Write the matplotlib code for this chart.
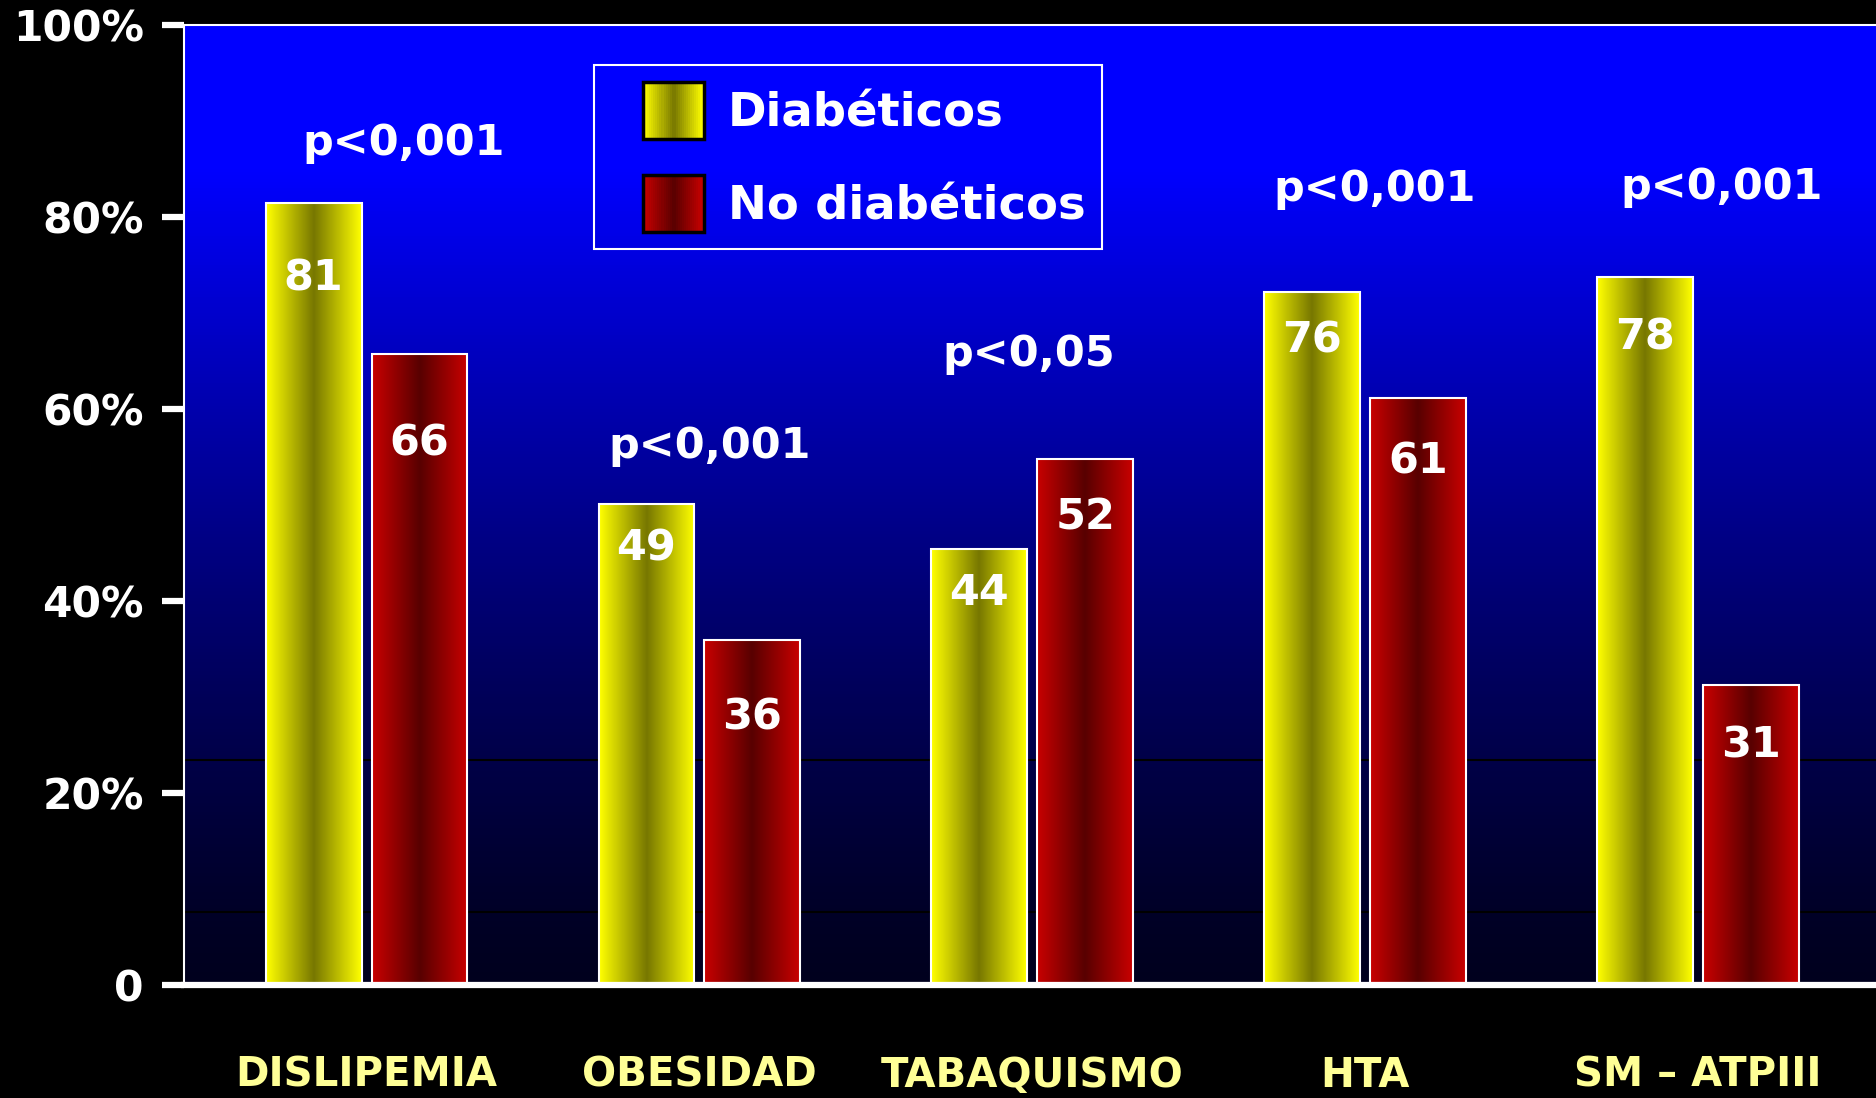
import matplotlib
matplotlib.use('Agg')
import matplotlib.pyplot as plt
import numpy as np
from matplotlib.colors import LinearSegmentedColormap
from matplotlib.legend_handler import HandlerBase
from matplotlib.patches import Rectangle, Patch

categories = ['DISLIPEMIA', 'OBESIDAD', 'TABAQUISMO', 'HTA', 'SM – ATPIII']
diabeticos = [81.5, 50.1, 45.4, 72.2, 73.7]
no_diabeticos = [65.7, 35.9, 54.8, 61.1, 31.2]
diabeticos_text = ['81', '49', '44', '76', '78']
no_diabeticos_text = ['66', '36', '52', '61', '31']
p_values = ['p<0,001', 'p<0,001', 'p<0,05', 'p<0,001', 'p<0,001']
y_ticks = [0, 20, 40, 60, 80, 100]
y_tick_labels = ['0', '20%', '40%', '60%', '80%', '100%']

# text placement (data units)
diab_text_y = [73.6, 45.5, 40.8, 67.1, 67.5]
no_diab_text_y = [56.4, 27.9, 48.7, 54.5, 25.0]
p_dx = [0.11, 0.03, -0.01, 0.03, 0.07]
p_y = [87.7, 56.1, 65.7, 82.9, 83.1]

yellow_cmap = LinearSegmentedColormap.from_list('yel', ['#ffff00', '#777700', '#ffff00'])
red_cmap = LinearSegmentedColormap.from_list('red', ['#c80000', '#580000', '#c80000'])
grad = np.linspace(0, 1, 200).reshape(1, -1)


class GradientHandler(HandlerBase):
    def __init__(self, cmap):
        super().__init__()
        self.cmap = cmap

    def create_artists(self, legend, orig_handle, xdescent, ydescent, width, height, fontsize, trans):
        side = height * 61 / 57
        x0 = -xdescent + width - side
        y0 = -ydescent
        n = 30
        arts = []
        for i in range(n):
            r = Rectangle((x0 + side * i / n, y0), side / n + 0.3, height,
                          facecolor=self.cmap(i / (n - 1)), edgecolor='none', transform=trans)
            arts.append(r)
        arts.append(Rectangle((x0, y0), side, height, facecolor='none', edgecolor='black',
                              linewidth=2.5, transform=trans))
        return arts


fig = plt.figure(figsize=(18.76, 10.98), dpi=100, facecolor='black')
ax = fig.add_axes([184 / 1876, 1 - 985 / 1098, 1 - 184 / 1876, 960 / 1098])

# background gradient
t = np.linspace(1, 0, 300)
b = (30 + 225 * np.clip(t / 0.85, 0, 1) ** 1.3) / 255
bg = np.zeros((300, 1, 3))
bg[:, 0, 2] = b
ax.imshow(bg, extent=[0, 1, 0, 1], transform=ax.transAxes, aspect='auto', zorder=0)
ax.axhline(23.4, color='black', linewidth=1.5, zorder=1)
ax.axhline(7.6, color='black', linewidth=1.5, zorder=1)

x = np.arange(len(categories))
w = 0.288
off = 0.159
bars1 = ax.bar(x - off, diabeticos, w, facecolor='none', edgecolor='white', linewidth=1.5, zorder=3)
bars2 = ax.bar(x + off, no_diabeticos, w, facecolor='none', edgecolor='white', linewidth=1.5, zorder=3)

for bars, cmap in [(bars1, yellow_cmap), (bars2, red_cmap)]:
    for p in bars:
        x0, y0 = p.get_xy()
        ax.imshow(grad, cmap=cmap, extent=[x0, x0 + p.get_width(), y0, y0 + p.get_height()],
                  aspect='auto', zorder=2, interpolation='bilinear')

for i in range(len(categories)):
    ax.text(x[i] - off, diab_text_y[i], diabeticos_text[i], color='white', fontsize=31,
            fontweight='bold', ha='center', va='center', zorder=4)
    ax.text(x[i] + off, no_diab_text_y[i], no_diabeticos_text[i], color='white', fontsize=31,
            fontweight='bold', ha='center', va='center', zorder=4)
    ax.text(x[i] + p_dx[i], p_y[i], p_values[i], color='white', fontsize=31,
            fontweight='bold', ha='center', va='center', zorder=4)

ax.set_xlim(-0.5487, 4.535)
ax.set_ylim(0, 100)

ax.set_yticks(y_ticks)
ax.set_yticklabels(y_tick_labels)
ax.set_xticks(x)
ax.set_xticklabels(categories)
ax.tick_params(axis='y', colors='white', labelsize=30.5, length=16, width=4.5, pad=13)
ax.tick_params(axis='x', colors='#ffff96', labelsize=29, length=0, pad=51)
for lab in ax.get_yticklabels() + ax.get_xticklabels():
    lab.set_fontweight('bold')

ax.spines['right'].set_visible(False)
ax.spines['left'].set_color('white')
ax.spines['left'].set_linewidth(1.5)
ax.spines['top'].set_color('white')
ax.spines['top'].set_linewidth(1.5)
ax.spines['bottom'].set_color('white')
ax.spines['bottom'].set_linewidth(4.5)
ax.spines['bottom'].set_zorder(5)

h1 = Patch(label='Diabéticos')
h2 = Patch(label='No diabéticos')
leg = ax.legend(handles=[h1, h2], handler_map={h1: GradientHandler(yellow_cmap), h2: GradientHandler(red_cmap)},
                loc='upper left', bbox_to_anchor=(0.2423, 0.9583), borderaxespad=0,
                fontsize=33.5, handlelength=2.0, handleheight=1.51, labelspacing=0.77,
                handletextpad=0.5, borderpad=0.37, fancybox=False, facecolor='none',
                edgecolor='white', framealpha=1)
leg.get_frame().set_linewidth(1.5)
for txt in leg.get_texts():
    txt.set_color('white')
    txt.set_fontweight('bold')
leg.set_zorder(6)

plt.savefig('out.png', dpi=100, facecolor='black')
